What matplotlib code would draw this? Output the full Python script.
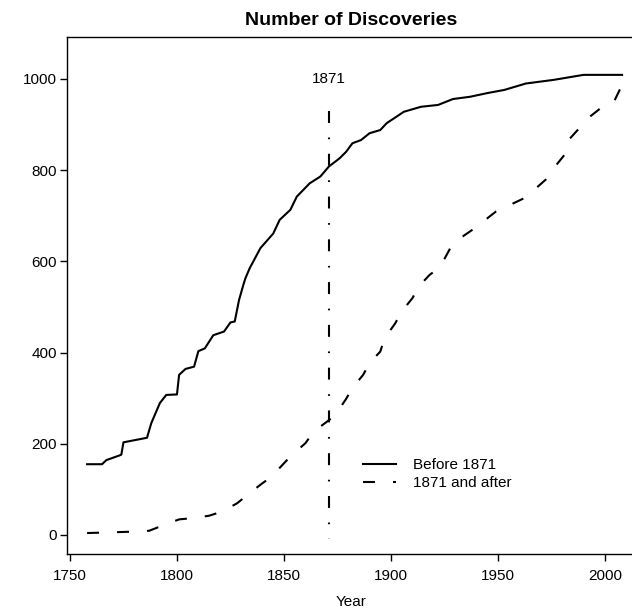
import matplotlib
matplotlib.use("Agg")
import matplotlib.pyplot as plt

plt.rcParams['font.family'] = ['Liberation Sans', 'DejaVu Sans']
plt.rcParams['lines.scale_dashes'] = False

# cumulative discoveries
before_years = [1758, 1765, 1767, 1773, 1774, 1775, 1786, 1788, 1792, 1795, 1800, 1801,
                1804, 1808, 1810, 1813, 1817, 1822, 1825, 1827, 1829, 1831, 1832, 1834,
                1839, 1845, 1848, 1853, 1856, 1862, 1867, 1871, 1876, 1879, 1882, 1886,
                1890, 1895, 1898, 1906, 1914, 1922, 1929, 1937, 1945, 1953, 1963, 1976,
                1990, 2008]
before_counts = [155, 155, 164, 174, 176, 203, 213, 245, 289, 307, 308, 351,
                 364, 369, 403, 409, 438, 446, 466, 468, 515, 548, 563, 585,
                 629, 661, 691, 713, 742, 771, 786, 808, 826, 840, 859, 866,
                 881, 888, 903, 928, 939, 943, 956, 961, 969, 976, 990, 998,
                 1009, 1009]

after_years = [1758, 1779, 1787, 1793, 1801, 1808, 1815, 1821, 1828, 1832, 1839, 1844,
               1850, 1853, 1860, 1864, 1870, 1874, 1879, 1882, 1887, 1890, 1895, 1897,
               1902, 1905, 1910, 1913, 1918, 1923, 1929, 1938, 1943, 1949, 1954, 1962,
               1966, 1973, 1976, 1981, 1983, 1988, 1991, 1998, 2004, 2008]
after_counts = [4, 7, 9, 20, 34, 37, 42, 51, 69, 84, 110, 127,
                157, 172, 201, 227, 248, 263, 298, 322, 351, 377, 402, 431,
                464, 490, 519, 545, 570, 588, 640, 669, 687, 709, 720, 738,
                753, 782, 804, 833, 866, 892, 910, 936, 948, 987]

split_year = 1871
split_top = 930

fig = plt.figure(figsize=(6.32, 6.13), dpi=100)
ax = fig.add_axes([0.1063, 0.0962, 0.8983, 0.8434])

ax.plot(before_years, before_counts, color='black', lw=1.5, label='Before 1871')
ax.plot(after_years, after_counts, color='black', lw=1.5, dashes=(8.6, 13),
        label='1871 and after')
# drawn top-down so the dash pattern starts at the top
ax.plot([split_year, split_year], [split_top, -8], color='black', lw=1.5,
        dashes=(8.6, 10.5, 1.2, 10.5), dash_capstyle='butt')
ax.text(split_year, 1000, '1871', ha='center', va='center', fontsize=11)

ax.set_xlim(1748.7, 2014)
ax.set_ylim(-42, 1092)
ax.set_xticks(range(1750, 2001, 50))
ax.set_yticks(range(0, 1001, 200))
ax.tick_params(labelsize=11, length=5, width=1, direction='out')
ax.tick_params(axis='x', pad=6)
ax.tick_params(axis='y', pad=2.5)
for s in ax.spines.values():
    s.set_linewidth(1)

ax.set_title('Number of Discoveries', fontsize=14, fontweight='bold', pad=9)
ax.set_xlabel('Year', fontsize=11, labelpad=8.5)

ax.legend(loc='upper left', bbox_to_anchor=(0.574, 0.253),
          bbox_transform=fig.transFigure, frameon=False, fontsize=11,
          handlelength=2.16, handletextpad=1.15, labelspacing=0.3,
          borderpad=0, borderaxespad=0)

fig.savefig('out.png', dpi=100)
